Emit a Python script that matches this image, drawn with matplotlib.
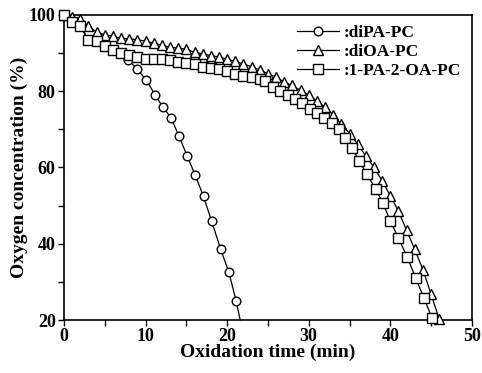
import numpy as np
import matplotlib
matplotlib.use('Agg')
import matplotlib.pyplot as plt
from matplotlib.ticker import MultipleLocator

# diPA-PC (circles)
t_dipa = [0, 1, 2, 3, 4, 5, 6, 7, 7.9, 9.0, 10.1, 11.2, 12.1, 13.1, 14.1, 15.1,
          16.1, 17.1, 18.1, 19.2, 20.2, 21.1, 21.6]
y_dipa = [100, 98.2, 97.0, 93.5, 93.1, 91.8, 90.9, 90.0, 88.2, 85.7, 82.9, 78.9,
          75.9, 73.1, 68.2, 63.0, 57.9, 52.4, 45.9, 38.6, 32.6, 25.0, 20.0]
mark_dipa = list(range(len(t_dipa) - 1))  # last point is only the line end

# diOA-PC (triangles)
t_dioa = list(range(0, 47))
y_dioa = [100, 99.5, 98.8, 97.0, 95.5, 94.8, 94.4, 93.9, 93.7, 93.5, 93.1, 92.6,
          92.1, 91.5, 91.3, 91.0, 90.2, 89.8, 89.3, 89.0, 88.4, 87.8, 87.1, 86.4,
          85.6, 84.6, 83.7, 82.4, 81.5, 80.2, 79.0, 77.4, 75.8, 73.8, 71.3, 68.9,
          66.1, 63.0, 60.0, 56.5, 52.6, 48.5, 43.5, 38.5, 33.2, 26.8, 20.2]

# 1-PA-2-OA-PC (squares)
t_paoa = [0, 1, 2, 3, 4, 5, 6, 7, 8, 9, 10, 11, 12, 13, 14, 15, 16, 17, 18, 19,
          20, 21, 22, 23, 24, 24.7, 25.6, 26.5, 27.4, 28.3, 29.2, 30.1, 31.0,
          31.9, 32.8, 33.7, 34.5, 35.3, 36.2, 37.1, 38.2, 39.1, 40.0, 41.0,
          42.1, 43.1, 44.1, 45.1]
y_paoa = [100, 98.2, 97.0, 93.5, 93.1, 91.8, 90.9, 90.0, 89.6, 88.9, 88.5, 88.5,
          88.4, 88.3, 87.7, 87.4, 87.1, 86.4, 86.1, 85.7, 85.3, 84.6, 83.9, 83.6,
          83.2, 82.7, 81.0, 80.1, 79.1, 77.9, 76.8, 75.3, 74.4, 73.1, 71.6, 70.0,
          67.8, 65.0, 61.8, 58.3, 54.4, 50.6, 46.0, 41.5, 36.4, 31.1, 25.9, 20.6]

plt.rcParams['font.family'] = ['Liberation Serif', 'DejaVu Serif']
plt.rcParams['font.weight'] = 'bold'

fig = plt.figure(figsize=(4.82, 3.73), dpi=100)
ax = fig.add_axes([0.1328, 0.142, 0.8462, 0.818])

ax.plot(t_dipa, y_dipa, color='black', lw=0.9, marker='o', markersize=6.2,
        markerfacecolor='white', markeredgecolor='black', markeredgewidth=1.0,
        markevery=mark_dipa, label=':diPA-PC', zorder=3, clip_on=False)
ax.plot(t_dioa, y_dioa, color='black', lw=0.9, marker='^', markersize=7.2,
        markerfacecolor='white', markeredgecolor='black', markeredgewidth=1.0,
        label=':diOA-PC', zorder=4, clip_on=False)
ax.plot(t_paoa, y_paoa, color='black', lw=0.9, marker='s', markersize=6.6,
        markerfacecolor='white', markeredgecolor='black', markeredgewidth=1.0,
        label=':1-PA-2-OA-PC', zorder=5, clip_on=False)

ax.set_xlim(0, 50)
ax.set_ylim(20, 100)
ax.xaxis.set_major_locator(MultipleLocator(10))
ax.xaxis.set_minor_locator(MultipleLocator(5))
ax.yaxis.set_major_locator(MultipleLocator(20))
ax.yaxis.set_minor_locator(MultipleLocator(10))
ax.tick_params(which='both', direction='out', length=4, width=1, labelsize=13)
ax.tick_params(which='major', pad=2)
for s in ax.spines.values():
    s.set_linewidth(1.2)
for lab in ax.get_xticklabels() + ax.get_yticklabels():
    lab.set_fontweight('bold')

ax.set_xlabel('Oxidation time (min)', fontsize=14, fontweight='bold', labelpad=-1)
ax.set_ylabel('Oxygen concentration (%)', fontsize=14, fontweight='bold', labelpad=1)

leg = ax.legend(loc='upper right', frameon=False, fontsize=12.5, numpoints=1,
                handlelength=2.4, handletextpad=0.3, labelspacing=0.15,
                borderaxespad=0.2, bbox_to_anchor=(1.0, 1.0))
for txt in leg.get_texts():
    txt.set_fontweight('bold')

fig.savefig('out.png', dpi=100)
